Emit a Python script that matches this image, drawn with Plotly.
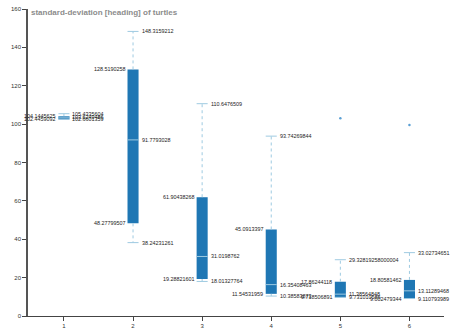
import plotly.graph_objects as go

categories = [1, 2, 3, 4, 5, 6]
upper_whisker = [105.4335604, 148.3159212, 110.6476509, 93.74269844, 29.32819258000004, 33.02734651]
q3 = [104.1445625, 128.5190258, 61.90438268, 45.0913397, 17.86244118, 18.80581462]
median = [103.6249486, 91.7793028, 31.0198762, 16.35408463, 11.38564848, 13.11289468]
q1 = [102.4459092, 48.27799507, 19.28821601, 11.54531959, 9.718506891, 9.002479344]
lower_whisker = [102.6601359, 38.24231261, 18.01327764, 10.38583873, 9.731010586, 9.110793989]
outlier_x = [5, 6]
outlier_y = [103.1, 99.5]
y_ticks = [0, 20, 40, 60, 80, 100, 120, 140, 160]
title = "standard-deviation [heading] of turtles"

BOX = "#1f77b4"
LIGHT = "#9ecae1"
HW = 0.08  # half box width in category units
FONT = "Liberation Sans, Arial, sans-serif"

fig = go.Figure()

fig.add_trace(go.Bar(
    x=categories, y=[a - b for a, b in zip(q3, q1)], base=q1, width=2 * HW,
    marker=dict(color=BOX, line=dict(width=0)), hoverinfo="skip"))

def segs(xs0, xs1, ys0, ys1):
    X, Y = [], []
    for a, b, c, d in zip(xs0, xs1, ys0, ys1):
        X += [a, b, None]
        Y += [c, d, None]
    return X, Y

# whiskers (dotted)
wx, wy = segs(categories + categories, categories + categories,
              q3 + q1, upper_whisker + lower_whisker)
fig.add_trace(go.Scatter(x=wx, y=wy, mode="lines",
                         line=dict(color=LIGHT, width=1, dash="dot"), hoverinfo="skip"))

# caps
left = [c - HW for c in categories]
right = [c + HW for c in categories]
cx, cy = segs(left + left, right + right, upper_whisker + lower_whisker, upper_whisker + lower_whisker)
fig.add_trace(go.Scatter(x=cx, y=cy, mode="lines", line=dict(color=LIGHT, width=1), hoverinfo="skip"))

# medians
mx, my = segs(left, right, median, median)
fig.add_trace(go.Scatter(x=mx, y=my, mode="lines", line=dict(color=LIGHT, width=1), hoverinfo="skip"))

# outliers
fig.add_trace(go.Scatter(x=outlier_x, y=outlier_y, mode="markers",
                         marker=dict(color="#5a9fd4", size=2.5), hoverinfo="skip"))

annotations = []
lf = dict(size=5.4, color="#222", family=FONT)
for i, c in enumerate(categories):
    for v in (q3[i], q1[i]):
        annotations.append(dict(x=c - HW, y=v, text=str(v), showarrow=False, xanchor="right",
                                xshift=-1, font=lf))
    for v in (median[i], upper_whisker[i], lower_whisker[i]):
        annotations.append(dict(x=c + HW, y=v, text=str(v), showarrow=False, xanchor="left",
                                xshift=1, font=lf))

annotations.append(dict(xref="paper", yref="paper", x=0, y=1, xanchor="left", yanchor="top",
                        xshift=1, yshift=3, text="<b>" + title + "</b>", showarrow=False,
                        font=dict(size=8, color="#8c8c8c", family=FONT)))

fig.update_layout(
    width=450, height=335, margin=dict(l=28, r=6, t=6, b=17),
    paper_bgcolor="white", plot_bgcolor="white", showlegend=False,
    annotations=annotations,
    xaxis=dict(range=[0.48, 6.5], tickvals=categories, ticks="outside", ticklen=4,
               showgrid=False, zeroline=False, showline=True, linecolor="#444", linewidth=1,
               tickfont=dict(size=6, color="#333", family=FONT), tickcolor="#444"),
    yaxis=dict(range=[0, 160], tickvals=y_ticks, ticks="outside", ticklen=4,
               showgrid=False, zeroline=False, showline=True, linecolor="#555", linewidth=1.5,
               tickfont=dict(size=6, color="#333", family=FONT), tickcolor="#444"),
)

fig.write_html("out.html")
